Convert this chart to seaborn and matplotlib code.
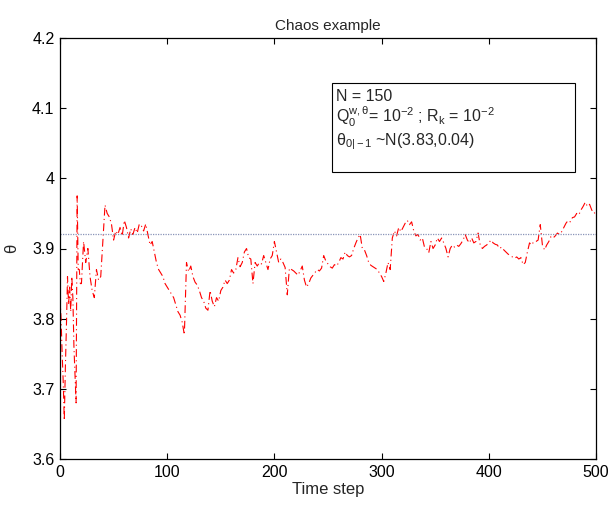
import numpy as np
import pandas as pd
import matplotlib
matplotlib.use("Agg")
import matplotlib.pyplot as plt
import seaborn as sns
from matplotlib.patches import Rectangle
from matplotlib.ticker import FuncFormatter

# ---- data ----
time_step = np.r_[0:20, 20:501:2]
theta_early = [3.83, 3.80, 3.75, 3.71, 3.655, 3.73, 3.79, 3.86, 3.82, 3.845,
               3.81, 3.86, 3.83, 3.76, 3.72, 3.68, 3.975, 3.87, 3.87, 3.85]
theta_rest = [
    3.85, 3.91, 3.88, 3.90, 3.86, 3.84, 3.83, 3.87, 3.855, 3.86,
    3.91, 3.962, 3.95, 3.945, 3.935, 3.912, 3.925, 3.92, 3.93, 3.918,
    3.94, 3.93, 3.915, 3.928, 3.92, 3.93, 3.922, 3.935, 3.932, 3.925,
    3.935, 3.92, 3.905, 3.91, 3.895, 3.88, 3.87, 3.865, 3.86, 3.85,
    3.845, 3.84, 3.835, 3.83, 3.82, 3.81, 3.805, 3.795, 3.777, 3.88,
    3.867, 3.875, 3.86, 3.852, 3.848, 3.84, 3.83, 3.825, 3.815, 3.812,
    3.84, 3.825, 3.817, 3.83, 3.825, 3.84, 3.845, 3.855, 3.85, 3.855,
    3.87, 3.865, 3.87, 3.887, 3.874, 3.88, 3.895, 3.90, 3.887, 3.885,
    3.85, 3.88, 3.875, 3.88, 3.878, 3.89, 3.88, 3.87, 3.885, 3.89,
    3.91, 3.895, 3.88, 3.885, 3.88, 3.873, 3.834, 3.872, 3.87, 3.868,
    3.865, 3.862, 3.868, 3.875, 3.855, 3.845, 3.85, 3.858, 3.862, 3.866,
    3.87, 3.868, 3.872, 3.89, 3.882, 3.878, 3.874, 3.872, 3.877, 3.875,
    3.88, 3.887, 3.885, 3.895, 3.89, 3.888, 3.89, 3.9, 3.908, 3.915,
    3.92, 3.90, 3.898, 3.89, 3.88, 3.876, 3.874, 3.872, 3.87, 3.865,
    3.86, 3.853, 3.865, 3.88, 3.87, 3.915, 3.925, 3.918, 3.93, 3.924,
    3.93, 3.936, 3.94, 3.934, 3.938, 3.925, 3.918, 3.92, 3.912, 3.915,
    3.902, 3.9, 3.894, 3.91, 3.9, 3.905, 3.915, 3.91, 3.915, 3.908,
    3.9, 3.888, 3.9, 3.905, 3.902, 3.905, 3.903, 3.907, 3.912, 3.92,
    3.912, 3.908, 3.915, 3.908, 3.91, 3.922, 3.905, 3.9, 3.903, 3.905,
    3.908, 3.912, 3.908, 3.906, 3.905, 3.9, 3.902, 3.898, 3.895, 3.892,
    3.89, 3.888, 3.886, 3.888, 3.885, 3.887, 3.877, 3.88, 3.895, 3.908,
    3.905, 3.91, 3.91, 3.912, 3.934, 3.905, 3.898, 3.905, 3.91, 3.917,
    3.915, 3.918, 3.922, 3.92, 3.924, 3.93, 3.936, 3.94, 3.938, 3.944,
    3.945, 3.95, 3.948, 3.955, 3.96, 3.966, 3.96, 3.963, 3.955, 3.95,
    3.952]
theta_est = theta_early + theta_rest
theta_true = 3.92

x_ticks = [0, 100, 200, 300, 400, 500]
y_ticks = [3.6, 3.7, 3.8, 3.9, 4.0, 4.1, 4.2]
title = "Chaos example"
xlabel = "Time step"
ylabel = "θ"
box_lines = ["N = 150",
             r"Q$_0^{w,\theta}$= 10$^{-2}$ ; R$_k$ = 10$^{-2}$",
             r"$\theta_{0|-1}$ ~N(3.83,0.04)"]

df = pd.DataFrame({"t": time_step, "theta": theta_est})

# ---- style ----
sns.set_theme(style="ticks")
plt.rcParams["font.family"] = ["Liberation Sans", "DejaVu Sans"]
plt.rcParams["mathtext.default"] = "regular"
plt.rcParams["mathtext.fontset"] = "custom"
plt.rcParams["mathtext.rm"] = "Liberation Sans"
plt.rcParams["mathtext.it"] = "Liberation Sans"

fig = plt.figure(figsize=(6.12, 5.05), dpi=100)
ax = fig.add_axes([60 / 612, 1 - 459 / 505, 536 / 612, 421 / 505])

sns.lineplot(data=df, x="t", y="theta", ax=ax, color="red",
             linewidth=0.8, linestyle=(0, (7, 3, 1, 3)), estimator=None)
ax.axhline(theta_true, color="#8a94b8", linewidth=0.9, linestyle=(0, (1, 1)))

ax.set_xlim(0, 500)
ax.set_ylim(3.6, 4.2)
ax.set_xticks(x_ticks)
ax.set_yticks(y_ticks)
ax.yaxis.set_major_formatter(FuncFormatter(lambda v, p: f"{v:g}"))
ax.tick_params(direction="in", length=4, width=0.8, top=True, right=True,
               labelsize=11.5, colors="black", pad=4)
for s in ax.spines.values():
    s.set_visible(True)
    s.set_linewidth(0.9)
    s.set_color("black")

ax.set_title(title, fontsize=11, pad=6)
ax.set_xlabel(xlabel, fontsize=12, labelpad=2)
ax.set_ylabel(ylabel, fontsize=12, labelpad=9)

# annotation box
ax.add_patch(Rectangle((254, 4.009), 226, 0.127, fill=False,
                       edgecolor="black", linewidth=0.8))
ax.text(257, 4.116, box_lines[0], fontsize=11.5, va="center", ha="left")
ax.text(257, 4.087, box_lines[1], fontsize=11.5, va="center", ha="left")
ax.text(257, 4.052, box_lines[2], fontsize=11.5, va="center", ha="left")

fig.savefig("out.png", dpi=100)
